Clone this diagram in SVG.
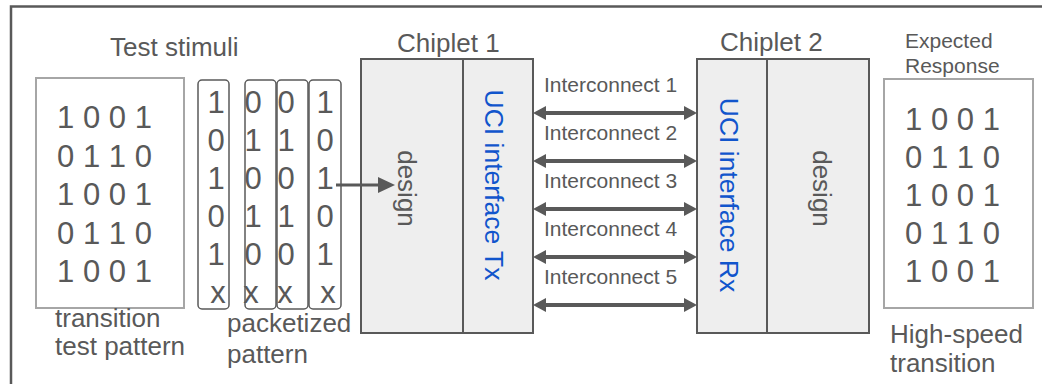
<svg xmlns="http://www.w3.org/2000/svg" width="1042" height="384" viewBox="0 0 1042 384">
  <style>
    text { font-family: "Liberation Sans", Arial, sans-serif; fill: #595959; }
    .lbl { font-size: 26px; }
    .ic { font-size: 21px; }
    .small { font-size: 21px; }
    .bits { font-size: 31px; text-anchor: middle; }
    .uci { font-size: 26.5px; fill: #1155cc; text-anchor: middle; }
    .rot { font-size: 26px; text-anchor: middle; }
    .pat { fill: #ffffff; stroke: #a6a6a6; stroke-width: 2; }
    .pkt { fill: none; stroke: #595959; stroke-width: 1.5; }
    .chip { fill: #eeeeee; stroke: #595959; stroke-width: 2; }
    .div { stroke: #595959; stroke-width: 2; }
    .link { stroke: #595959; stroke-width: 4; fill: none; }
    .feed { stroke: #595959; stroke-width: 3; fill: none; }
  </style>
  <defs>
    <marker id="dblHead" viewBox="0 0 13 14" refX="1" refY="7" markerWidth="13" markerHeight="14" markerUnits="userSpaceOnUse" orient="auto-start-reverse">
      <path d="M0,0 L13,7 L0,14 z" fill="#595959"/>
    </marker>
    <marker id="feedHead" viewBox="0 0 17 16" refX="2" refY="8" markerWidth="17" markerHeight="16" markerUnits="userSpaceOnUse" orient="auto">
      <path d="M0,0 L17,8 L0,16 z" fill="#595959"/>
    </marker>
  </defs>

  <rect width="1042" height="384" fill="#ffffff"/>

  <!-- outer frame -->
  <path d="M11,384 V6.5 H1042" fill="none" stroke="#595959" stroke-width="2.5"/>

  <!-- transition test pattern -->
  <g id="test-pattern">
    <text class="lbl" x="110" y="56">Test stimuli</text>
    <rect class="pat" x="36" y="78" width="148" height="230"/>
    <text class="bits" x="104.5" y="128">1 0 0 1</text>
    <text class="bits" x="104.5" y="166.5">0 1 1 0</text>
    <text class="bits" x="104.5" y="205">1 0 0 1</text>
    <text class="bits" x="104.5" y="243.5">0 1 1 0</text>
    <text class="bits" x="104.5" y="282">1 0 0 1</text>
    <text class="lbl" x="55" y="327">transition</text>
    <text class="lbl" x="55" y="355">test pattern</text>
  </g>

  <!-- packetized pattern columns -->
  <g id="packets">
    <rect class="pkt" x="198" y="80" width="31" height="229" rx="4"/>
    <rect class="pkt" x="245" y="80" width="31" height="229" rx="4"/>
    <rect class="pkt" x="277" y="80" width="31" height="229" rx="4"/>
    <rect class="pkt" x="309" y="80" width="32" height="229" rx="4"/>
    <g class="bits">
      <text class="bits" x="216" y="113">1</text>
      <text class="bits" x="216" y="151">0</text>
      <text class="bits" x="216" y="189">1</text>
      <text class="bits" x="216" y="227">0</text>
      <text class="bits" x="216" y="265">1</text>
      <text class="bits" x="218" y="303">x</text>

      <text class="bits" x="253" y="113">0</text>
      <text class="bits" x="253" y="151">1</text>
      <text class="bits" x="253" y="189">0</text>
      <text class="bits" x="253" y="227">1</text>
      <text class="bits" x="253" y="265">0</text>
      <text class="bits" x="251" y="303">x</text>

      <text class="bits" x="286" y="113">0</text>
      <text class="bits" x="286" y="151">1</text>
      <text class="bits" x="286" y="189">0</text>
      <text class="bits" x="286" y="227">1</text>
      <text class="bits" x="286" y="265">0</text>
      <text class="bits" x="285" y="303">x</text>

      <text class="bits" x="325" y="113">1</text>
      <text class="bits" x="325" y="151">0</text>
      <text class="bits" x="325" y="189">1</text>
      <text class="bits" x="325" y="227">0</text>
      <text class="bits" x="325" y="265">1</text>
      <text class="bits" x="328" y="303">x</text>
    </g>
    <text class="lbl" x="227" y="332">packetized</text>
    <text class="lbl" x="227" y="363">pattern</text>
  </g>

  <!-- Chiplet 1 -->
  <g id="chiplet1">
    <text class="lbl" x="397" y="52">Chiplet 1</text>
    <rect class="chip" x="361" y="59" width="172" height="274"/>
    <line class="div" x1="463" y1="59" x2="463" y2="333"/>
    <text class="rot" transform="translate(398,188.5) rotate(90)">design</text>
    <text class="uci" transform="translate(485,185) rotate(90)">UCI interface Tx</text>
  </g>

  <!-- Chiplet 2 -->
  <g id="chiplet2">
    <text class="lbl" x="720" y="51">Chiplet 2</text>
    <rect class="chip" x="697" y="59" width="172" height="274"/>
    <line class="div" x1="767" y1="59" x2="767" y2="333"/>
    <text class="uci" transform="translate(720,195) rotate(90)">UCI interface Rx</text>
    <text class="rot" transform="translate(813,188.5) rotate(90)">design</text>
  </g>

  <!-- expected response -->
  <g id="expected-response">
    <text class="small" x="905" y="48">Expected</text>
    <text class="small" x="905" y="73">Response</text>
    <rect class="pat" x="884" y="79" width="149" height="229"/>
    <text class="bits" x="952.5" y="130">1 0 0 1</text>
    <text class="bits" x="952.5" y="168">0 1 1 0</text>
    <text class="bits" x="952.5" y="206">1 0 0 1</text>
    <text class="bits" x="952.5" y="244">0 1 1 0</text>
    <text class="bits" x="952.5" y="282">1 0 0 1</text>
    <text class="lbl" x="890" y="343">High-speed</text>
    <text class="lbl" x="890" y="372">transition</text>
  </g>

  <!-- connectors -->
  <g id="connectors">
    <line class="feed" x1="336" y1="185" x2="380" y2="185" marker-end="url(#feedHead)"/>
    <line class="link" x1="545" y1="113" x2="685" y2="113" marker-start="url(#dblHead)" marker-end="url(#dblHead)"/>
    <line class="link" x1="545" y1="161" x2="685" y2="161" marker-start="url(#dblHead)" marker-end="url(#dblHead)"/>
    <line class="link" x1="545" y1="209" x2="685" y2="209" marker-start="url(#dblHead)" marker-end="url(#dblHead)"/>
    <line class="link" x1="545" y1="257" x2="685" y2="257" marker-start="url(#dblHead)" marker-end="url(#dblHead)"/>
    <line class="link" x1="545" y1="305" x2="685" y2="305" marker-start="url(#dblHead)" marker-end="url(#dblHead)"/>
    <text class="ic" x="544" y="92">Interconnect 1</text>
    <text class="ic" x="544" y="140">Interconnect 2</text>
    <text class="ic" x="544" y="188">Interconnect 3</text>
    <text class="ic" x="544" y="236">Interconnect 4</text>
    <text class="ic" x="544" y="284">Interconnect 5</text>
  </g>
</svg>
